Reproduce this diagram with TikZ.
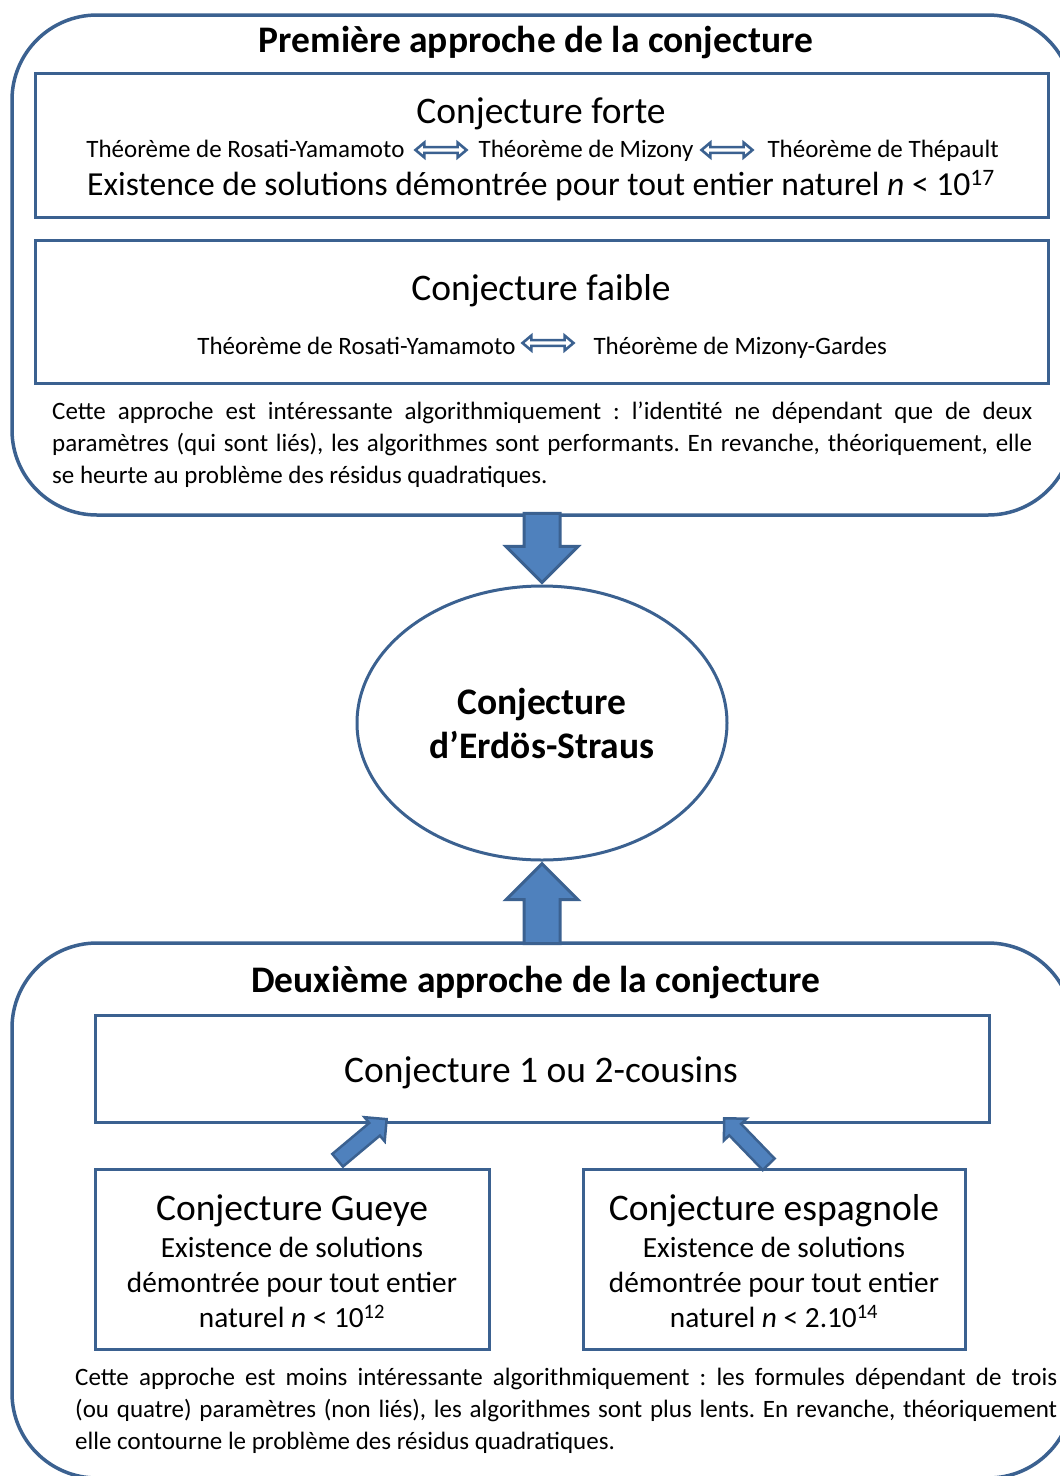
\documentclass[tikz,border=0pt]{standalone}
\usepackage{fontspec}
\setmainfont{Carlito}
\usetikzlibrary{shapes.geometric,shapes.arrows,calc}
\definecolor{bordblue}{HTML}{3B6190}
\definecolor{fillblue}{HTML}{4F81BD}
\frenchspacing

\begin{document}
\begin{tikzpicture}[x=1pt,y=-1pt,
    outerbox/.style={draw=bordblue,line width=3.5pt,rounded corners=85pt,inner sep=0pt},
    innerbox/.style={draw=bordblue,line width=3pt,inner sep=0pt},
    bigfont/.style={font=\fontsize{37.5}{44}\selectfont},
    boldfont/.style={font=\fontsize{37.5}{44}\selectfont\bfseries},
    midfont/.style={font=\fontsize{29.3}{35}\selectfont},
    smallfont/.style={font=\fontsize{25}{32}\selectfont},
    dblarrow/.style={double arrow,draw=bordblue,line width=2.6pt,fill=white,inner sep=1.6pt,
        double arrow head extend=4.5pt,double arrow tip angle=80,minimum height=51pt},
    bigarrow/.style={single arrow,draw=bordblue,fill=fillblue,line width=3pt,inner sep=16.5pt,
        single arrow head extend=18pt,anchor=tip},
    smallarrow/.style={single arrow,draw=bordblue,fill=fillblue,line width=2.5pt,inner sep=7pt,
        single arrow head extend=7.5pt,minimum height=64pt,anchor=tip},
    para/.style={smallfont,inner sep=0pt,anchor=north west,align=justify}
]
\useasboundingbox (0,0) rectangle (1060,1476);

% premiere approche
\node[outerbox,minimum width=1061pt,minimum height=500pt] (top) at (542.5,265) {};
\node[boldfont,anchor=base] (ttop) at (536,52) {Première approche de la conjecture};

\node[innerbox,minimum width=1013pt,minimum height=144pt] (forte) at (541.5,145) {};
\node[bigfont,anchor=base] (tforte) at (541,123) {Conjecture forte};
\node[smallfont,anchor=base east] (rosa) at (408,157) {Théorème de Rosati-Yamamoto};
\node[dblarrow] (d1) at (441,150) {};
\node[smallfont,anchor=base] (miz) at (586,157) {Théorème de Mizony};
\node[dblarrow] (d2) at (727,150) {};
\node[smallfont,anchor=base west] (thep) at (764,157) {Théorème de Thépault};
\node[font=\fontsize{33.6}{40}\selectfont,anchor=base] (exforte) at (541,195)
    {Existence de solutions démontrée pour tout entier naturel \textit{n} < 10\textsuperscript{17}};

\node[innerbox,minimum width=1013pt,minimum height=143pt] (faible) at (541.5,311.5) {};
\node[bigfont,anchor=base] (tfaible) at (541,300) {Conjecture faible};
\node[smallfont,anchor=base east] (rosb) at (519,354) {Théorème de Rosati-Yamamoto};
\node[dblarrow] (d3) at (548,343) {};
\node[smallfont,anchor=base west] (mizg) at (590,354) {Théorème de Mizony-Gardes};

\node[para,text width=980pt] (pone) at (52,402)
    {Cette approche est intéressante algorithmiquement : l’identité ne dépendant que de deux\linebreak
    paramètres (qui sont liés), les algorithmes sont performants. En revanche, théoriquement, elle\linebreak
    se heurte au problème des résidus quadratiques.};

% conjecture centrale
\node[ellipse,draw=bordblue,line width=3pt,minimum width=370pt,minimum height=274pt,
    boldfont,align=center] (erdos) at (542,723) {Conjecture\\d’Erdös-Straus};

\node[bigarrow,rotate=-90,minimum height=69pt] (adown) at (erdos.north) {};

% deuxieme approche
\node[outerbox,minimum width=1061pt,minimum height=535pt] (bot) at (542.5,1210.5) {};
\node[boldfont,anchor=base] (tbot) at (536,992) {Deuxième approche de la conjecture};

\node[bigarrow,rotate=90,minimum height=80pt] (aup) at (erdos.south) {};

\node[innerbox,minimum width=894pt,minimum height=107pt] (cousins) at (542,1068.5) {};
\node[bigfont,anchor=base] (tcousins) at (541,1082) {Conjecture 1 ou 2-cousins};

\node[innerbox,minimum width=394pt,minimum height=180pt] (gueye) at (292,1259) {};
\node[bigfont,anchor=base] (tgueye) at (292,1220) {Conjecture Gueye};
\node[midfont,anchor=base] (gueyea) at (292,1257.5) {Existence de solutions};
\node[midfont,anchor=base] (gueyeb) at (292,1292.5) {démontrée pour tout entier};
\node[midfont,anchor=base] (gueyec) at (292,1327.5) {naturel \textit{n} < 10\textsuperscript{12}};

\node[innerbox,minimum width=382pt,minimum height=180pt] (esp) at (774,1259) {};
\node[bigfont,anchor=base] (tesp) at (774,1220) {Conjecture espagnole};
\node[midfont,anchor=base] (espa) at (774,1257.5) {Existence de solutions};
\node[midfont,anchor=base] (espb) at (774,1292.5) {démontrée pour tout entier};
\node[midfont,anchor=base] (espc) at (774,1327.5) {naturel \textit{n} < 2.10\textsuperscript{14}};

\coordinate (gtip) at (388,1118);
\coordinate (etip) at (723,1117);
\node[smallarrow,rotate=40] (ag) at (gtip) {};
\node[smallarrow,rotate=134] (ae) at (etip) {};

\node[para,text width=982pt] (ptwo) at (75,1368)
    {Cette approche est moins intéressante algorithmiquement : les formules dépendant de trois\linebreak
    (ou quatre) paramètres (non liés), les algorithmes sont plus lents. En revanche, théoriquement\linebreak
    elle contourne le problème des résidus quadratiques.};
\end{tikzpicture}
\end{document}
